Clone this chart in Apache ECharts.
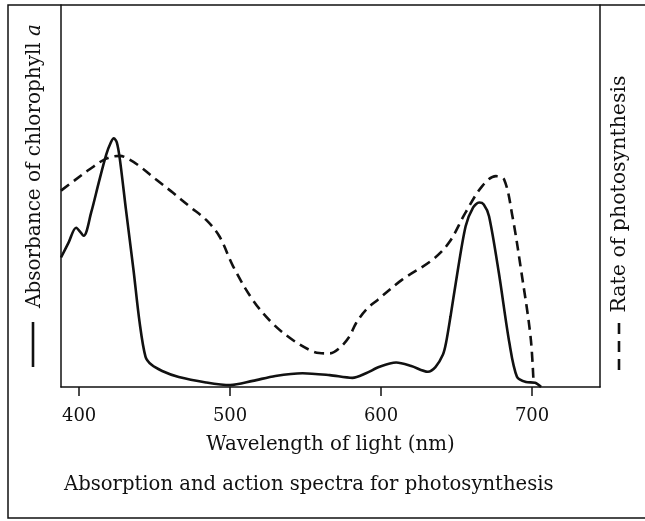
<!DOCTYPE html>
<html>
<head>
<meta charset="utf-8">
<script src="https://cdn.jsdelivr.net/npm/echarts@6/dist/echarts.min.js"></script>
<style>
html,body{margin:0;padding:0;background:#fff;}
#chart{width:645px;height:521px;}
</style>
</head>
<body>
<div id="chart"></div>
<script>
// Wavelength (nm) and chlorophyll a absorbance (arbitrary units, 0-100)
const absWavelength = [388,393,398,403,408,413,418,421,423,425,427,431,436,440,444,448,455,466,484,500,515,530,548,566,581,590,599,610,620,631,636,641,643,646,649.5,656,661,665,668,671.5,678,685,690,696,702,706];
const absorbance    = [33.9,37.8,41.7,39.6,45.7,53.5,60.9,64.0,65.1,64.0,59.6,46.5,30.7,17.1,7.9,5.8,4.2,2.6,1.2,0.5,1.6,2.9,3.6,3.1,2.4,3.6,5.3,6.4,5.5,4.0,5.2,8.5,11.5,18.5,27.3,42.1,47.0,48.3,47.8,44.7,29.9,11.5,2.7,1.3,1.1,0];
// Wavelength (nm) and rate of photosynthesis (arbitrary units, 0-100)
const rateWavelength = [388,397,407,418,427,433,440,451,462,473,484,493,502,515,528,541.5,552.6,559,565.8,572.4,579,583.4,590,597.7,614,634,645,656,667,676,681.5,687,693,699,701];
const rate           = [51.4,54.1,57.0,59.8,60.5,59.6,57.8,54.3,50.9,47.3,43.8,39.4,31.6,22.8,16.7,12.3,9.7,8.9,8.8,10.2,13.2,16.7,20.2,22.8,28.1,33.3,37.8,45.7,52.6,55.2,54.3,44.7,29.9,13.2,1.0];
// Axis tick labels
const xTicks = [400,500,600,700];
const xTitle = 'Wavelength of light (nm)';
const leftTitle = 'Absorbance of chlorophyll ';
const leftTitleItalic = 'a';
const rightTitle = 'Rate of photosynthesis';
const caption = 'Absorption and action spectra for photosynthesis';

const FONT = '"DejaVu Serif", serif';
const INK = '#111';

const chart = echarts.init(document.getElementById('chart'), null, {renderer:'canvas'});
const zip = (xs, ys) => xs.map((x, i) => [x, ys[i]]);

chart.setOption({
  backgroundColor: '#fff',
  animation: false,
  title: {
    text: caption,
    left: 59,
    top: 470,
    textStyle: {fontFamily: FONT, fontSize: 19.6, fontWeight: 'normal', color: INK}
  },
  grid: {left: 61, right: 45, top: 5, bottom: 134, containLabel: false},
  xAxis: {
    type: 'value', min: 388, max: 745,
    name: xTitle, nameLocation: 'middle', nameGap: 48,
    nameTextStyle: {fontFamily: FONT, fontSize: 19.8, color: INK},
    axisLine: {show: true, lineStyle: {color: INK, width: 1.5}},
    axisTick: {show: true, inside: false, length: 9, customValues: xTicks, lineStyle: {color: INK, width: 1.5}},
    axisLabel: {customValues: xTicks, margin: 20, fontFamily: FONT, fontSize: 18, color: INK},
    splitLine: {show: false}
  },
  yAxis: [
    {type: 'value', min: 0, max: 100, position: 'left',
     axisLine: {show: true, lineStyle: {color: INK, width: 1.5}},
     axisTick: {show: false}, axisLabel: {show: false}, splitLine: {show: false}},
    {type: 'value', min: 0, max: 100, position: 'right',
     axisLine: {show: true, lineStyle: {color: INK, width: 1.5}},
     axisTick: {show: false}, axisLabel: {show: false}, splitLine: {show: false}}
  ],
  series: [
    {name: 'Absorbance of chlorophyll a', type: 'line', yAxisIndex: 0,
     data: zip(absWavelength, absorbance), showSymbol: false, smooth: 0.3,
     lineStyle: {color: INK, width: 2.6, type: 'solid'}},
    {name: 'Rate of photosynthesis', type: 'line', yAxisIndex: 0,
     data: zip(rateWavelength, rate), showSymbol: false, smooth: 0.35,
     lineStyle: {color: INK, width: 2.6, type: [10, 6]}}
  ],
  graphic: [
    {type: 'rect', silent: true, z: 0,
     shape: {x: 8, y: 5, width: 760, height: 513},
     style: {fill: 'none', stroke: INK, lineWidth: 1.5}},
    {type: 'text', x: 35, y: 166, rotation: Math.PI / 2, silent: true,
     style: {
       text: '{n|' + leftTitle + '}{i|' + leftTitleItalic + '}',
       align: 'center', verticalAlign: 'middle',
       rich: {
         n: {fontFamily: FONT, fontSize: 20, fill: INK},
         i: {fontFamily: FONT, fontSize: 20, fontStyle: 'italic', fill: INK}
       }
     }},
    {type: 'line', silent: true,
     shape: {x1: 33, y1: 322, x2: 33, y2: 367},
     style: {stroke: INK, lineWidth: 2.6}},
    {type: 'text', x: 620, y: 194, rotation: Math.PI / 2, silent: true,
     style: {text: rightTitle, align: 'center', verticalAlign: 'middle',
             fontFamily: FONT, fontSize: 20.5, fill: INK}},
    {type: 'line', silent: true,
     shape: {x1: 619, y1: 323, x2: 619, y2: 372},
     style: {stroke: INK, lineWidth: 2.6, lineDash: [11, 7]}}
  ]
});
</script>
</body>
</html>
